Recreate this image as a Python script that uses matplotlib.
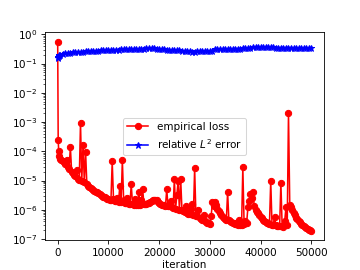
import matplotlib
matplotlib.use("Agg")
import matplotlib.pyplot as plt

loss_iterations = [0, 100, 200, 300] + list(range(500, 50001, 250))
empirical_loss = [
    0.55, 2.5e-4, 1.0e-4, 7e-5,
    5.5e-5, 5.0e-5, 4.6e-5, 4.2e-5, 3.7e-5, 5.0e-5, 2.8e-5, 2.5e-5,      # 500
    1.4e-4, 2.0e-5, 1.75e-5, 1.6e-5, 1.4e-5, 2.2e-5, 1.1e-5, 1.05e-5,    # 2500
    9.3e-4, 1.0e-5, 1.7e-4, 9e-6, 9.8e-5, 7.5e-6, 6.5e-6, 6.2e-6,        # 4500
    5.6e-6, 5.2e-6, 4.8e-6, 4.5e-6, 4.2e-6, 4.0e-6, 3.7e-6, 3.4e-6,      # 6500
    3.2e-6, 3.0e-6, 2.8e-6, 2.65e-6, 2.5e-6, 2.4e-6, 2.3e-6, 2.2e-6,     # 8500
    2.1e-6, 4.5e-5, 2.4e-6, 2.0e-6, 2.0e-6, 2.6e-6, 1.9e-6, 6.6e-6,      # 10500
    1.8e-6, 5e-5, 2.2e-6, 1.7e-6, 1.7e-6, 2.5e-6, 1.6e-6, 1.55e-6,       # 12500
    7.5e-6, 1.6e-6, 1.5e-6, 2.4e-6, 1.45e-6, 1.5e-6, 3.9e-6, 1.5e-6,     # 14500
    2.2e-6, 5e-6, 1.6e-6, 1.55e-6, 1.6e-6, 1.65e-6, 1.7e-6, 1.85e-6,     # 16500
    2.0e-6, 2.1e-6, 2.2e-6, 2.2e-6, 2.1e-6, 1.9e-6, 1.7e-6, 1.6e-6,      # 18500
    1.5e-6, 1.45e-6, 1.4e-6, 1.35e-6, 5e-6, 1.3e-6, 1.3e-6, 2.0e-6,      # 20500
    1.2e-6, 1.15e-6, 1.1e-5, 1.1e-6, 3.2e-6, 9.8e-6, 1.0e-6, 1.1e-5,     # 22500
    9.5e-7, 9e-7, 8.5e-7, 1.3e-6, 7.5e-7, 7.2e-7, 7e-7, 1.1e-6,          # 24500
    1.55e-6, 6.5e-7, 2.6e-5, 6.2e-7, 6e-7, 9.6e-7, 5.2e-7, 4.8e-7,       # 26500
    4.5e-7, 6.5e-7, 4.0e-7, 3.8e-7, 3.6e-7, 3.4e-7, 3.3e-7, 6e-7,        # 28500
    1.8e-6, 1.3e-6, 1.8e-6, 1.4e-6, 1.1e-6, 9e-7, 7.5e-7, 6.6e-7,        # 30500
    5.8e-7, 5.3e-7, 4.8e-7, 4.5e-7, 4.1e-6, 4.3e-7, 4.0e-7, 3.8e-7,      # 32500
    3.6e-7, 3.4e-7, 3.3e-7, 3.2e-7, 3.1e-7, 4.5e-7, 3.0e-7, 2.9e-7,      # 34500
    2.8e-5, 3.2e-7, 4e-7, 3.5e-7, 1.2e-6, 2.0e-6, 3.4e-6, 2.5e-6,        # 36500
    3.9e-6, 1.3e-6, 1.0e-6, 8.6e-7, 7.5e-7, 6.6e-7, 5.8e-7, 5.2e-7,      # 38500
    4.6e-7, 4.2e-7, 3.9e-7, 3.6e-7, 3.4e-7, 3.2e-7, 9.8e-6, 3.1e-7,      # 40500
    3.0e-7, 5.7e-7, 2.9e-7, 2.8e-7, 2.8e-7, 2.7e-7, 8.5e-6, 2.7e-7,      # 42500
    2.6e-7, 4e-7, 1.2e-6, 3e-7, 2.0e-3, 1.5e-6, 1.2e-6, 1.0e-6,          # 44500
    8e-7, 6.5e-7, 5.4e-7, 4.8e-7, 4.2e-7, 3.7e-7, 3.3e-7, 3.0e-7,        # 46500
    2.8e-7, 2.6e-7, 2.4e-7, 2.25e-7, 2.1e-7, 2.0e-7, 1.9e-7,             # 48500
]

error_iterations = [0, 100, 200, 300] + list(range(500, 50001, 500))
relative_l2_error = [
    0.16, 0.17, 0.18, 0.19,
    0.20, 0.215, 0.225, 0.23, 0.235, 0.24, 0.245, 0.25, 0.25, 0.255,      # 500
    0.26, 0.26, 0.265, 0.27, 0.27, 0.275, 0.28, 0.28, 0.285, 0.29,        # 5500
    0.29, 0.295, 0.30, 0.30, 0.305, 0.31, 0.31, 0.315, 0.315, 0.32,       # 10500
    0.32, 0.32, 0.325, 0.325, 0.33, 0.33, 0.33, 0.33, 0.325, 0.32,        # 15500
    0.31, 0.305, 0.30, 0.295, 0.29, 0.285, 0.28, 0.28, 0.275, 0.27,       # 20500
    0.265, 0.26, 0.255, 0.255, 0.26, 0.26, 0.265, 0.27, 0.27, 0.27,       # 25500
    0.27, 0.31, 0.315, 0.315, 0.32, 0.32, 0.32, 0.32, 0.32, 0.325,        # 30500
    0.325, 0.325, 0.33, 0.33, 0.33, 0.335, 0.355, 0.36, 0.36, 0.355,      # 35500
    0.355, 0.355, 0.355, 0.355, 0.355, 0.35, 0.35, 0.35, 0.35, 0.35,      # 40500
    0.35, 0.35, 0.345, 0.345, 0.345, 0.345, 0.345, 0.34, 0.34, 0.34,      # 45500
]

fig, ax = plt.subplots(figsize=(4.8, 3.6), dpi=75)
ax.semilogy(loss_iterations, empirical_loss, "r-o", label="empirical loss")
ax.semilogy(error_iterations, relative_l2_error, "b-*", label="relative $L^2$ error")
ax.set_xlabel("iteration", labelpad=2)
ax.legend(loc="center")
fig.savefig("out.png", dpi=75)
